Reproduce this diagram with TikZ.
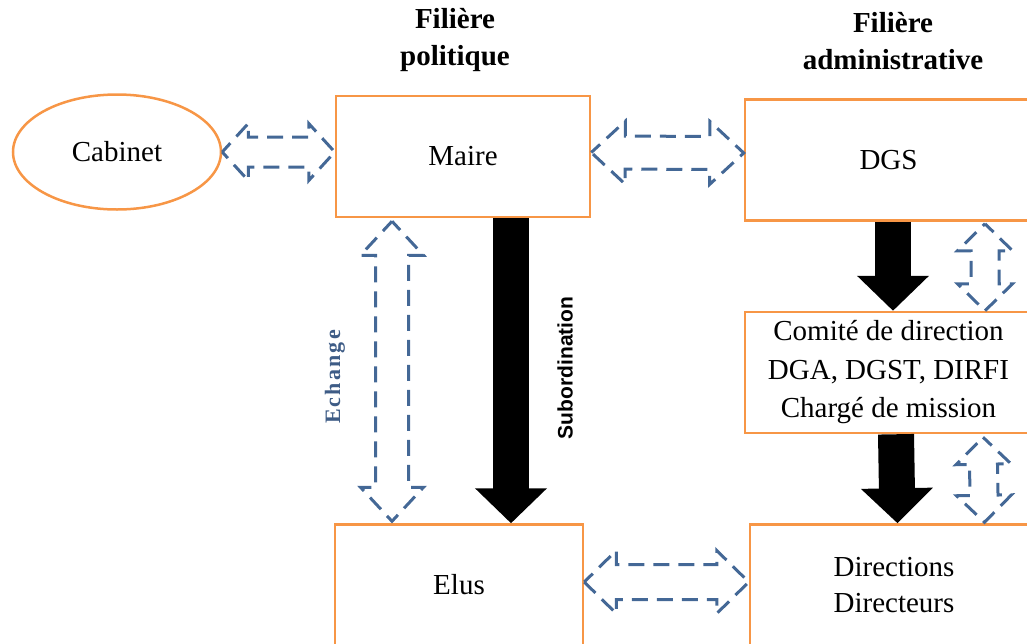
\documentclass[tikz,border=0pt]{standalone}
\usepackage{fontspec}
\setmainfont{Liberation Serif}
\newfontfamily\labsans{Liberation Sans}
\usetikzlibrary{arrows.meta,calc,shapes.geometric}
\definecolor{boxorange}{RGB}{247,150,70}
\definecolor{dashblue}{RGB}{68,104,150}
\definecolor{labblue}{RGB}{62,92,134}

\begin{document}
\begin{tikzpicture}[x=1pt,y=-1pt,
  box/.style={draw=boxorange,line width=2.5pt,minimum height=121pt,align=center,
    font=\fontsize{29}{37}\selectfont},
  oval/.style={ellipse,draw=boxorange,line width=2.5pt,minimum width=208pt,
    minimum height=115pt,font=\fontsize{29}{37}\selectfont},
  hdr/.style={align=center,font=\fontsize{29}{37}\selectfont\bfseries},
  blkarrow/.style={line width=36pt,-{Triangle[length=35pt,width=70pt]}},
  dblarrow/.style n args={3}{draw=dashblue,line width=3pt,
    dash pattern=on 16pt off 9pt,dash phase=4pt,
    to path={
      -- ($(\tikztostart)!#1!(\tikztotarget)!#2!90:(\tikztotarget)$)
      -- ($(\tikztostart)!#1!(\tikztotarget)!#3!90:(\tikztotarget)$)
      -- ($(\tikztotarget)!#1!(\tikztostart)!#3!-90:(\tikztostart)$)
      -- ($(\tikztotarget)!#1!(\tikztostart)!#2!-90:(\tikztostart)$)
      -- (\tikztotarget)
      -- ($(\tikztotarget)!#1!(\tikztostart)!#2!90:(\tikztostart)$)
      -- ($(\tikztotarget)!#1!(\tikztostart)!#3!90:(\tikztostart)$)
      -- ($(\tikztostart)!#1!(\tikztotarget)!#3!-90:(\tikztotarget)$)
      -- ($(\tikztostart)!#1!(\tikztotarget)!#2!-90:(\tikztotarget)$)
      -- cycle}}]
\clip (0,0) rectangle (1027,643);

% headings
\node[hdr] (hpol) at (455,40) {Filière\\politique};
\node[hdr] (hadm) at (893,41) {Filière\\administrative};

% boxes
\node[oval] (cab) at (117,152) {Cabinet};
\node[box,minimum width=254pt] (maire) at (463,156.5) {Maire};
\node[box,minimum width=287pt] (dgs) at (888.5,160) {DGS};
\node[box,minimum width=287pt,font=\fontsize{29}{38.5}\selectfont] (com) at (888.5,372.5)
  {Comité de direction\\DGA, DGST, DIRFI\\Chargé de mission};
\node[box,minimum width=248pt] (elus) at (459,585) {Elus};
\node[box,minimum width=288pt,font=\fontsize{29}{36}\selectfont] (dir) at (894,585)
  {Directions\\Directeurs};

% subordination
\draw[blkarrow] ([xshift=48pt]maire.south) -- ([xshift=52pt]elus.north);
\draw[blkarrow] ([xshift=4.5pt]dgs.south) -- ([xshift=4.5pt]com.north);
\draw[blkarrow] ([xshift=7.5pt]com.south) -- ([xshift=3.5pt]dir.north);

% echanges
\draw[dblarrow={26pt}{28.5pt}{15pt}] (cab.east) to (cab.east -| maire.west);
\draw[dblarrow={34pt}{31.5pt}{16.5pt}] ([yshift=4pt]maire.east) to ([yshift=7pt]dgs.west);
\draw[dblarrow={32pt}{31.5pt}{17.5pt}] ([yshift=3pt]elus.east) to ([yshift=3pt]dir.west);
\draw[dblarrow={34pt}{31.5pt}{16.5pt}] ([xshift=-71pt,yshift=-3pt]maire.south)
  to ([xshift=-67pt,yshift=2pt]elus.north);
\draw[dblarrow={27pt}{27.5pt}{14pt}] ([xshift=96.5pt,yshift=-2pt]dgs.south)
  to ([xshift=96.5pt]com.north);
\draw[dblarrow={27pt}{27.5pt}{14pt}] ([xshift=94.5pt,yshift=-3pt]com.south)
  to ([xshift=90.5pt,yshift=1pt]dir.north);

% labels
\node[rotate=90,text=labblue,
  font=\bfseries\addfontfeature{LetterSpace=10}\fontsize{22}{26}\selectfont]
  (lech) at (335,377) {Echange};
\node[rotate=90,font=\labsans\bfseries\fontsize{21}{25}\selectfont]
  (lsub) at (565,368) {Subordination};
\end{tikzpicture}
\end{document}
